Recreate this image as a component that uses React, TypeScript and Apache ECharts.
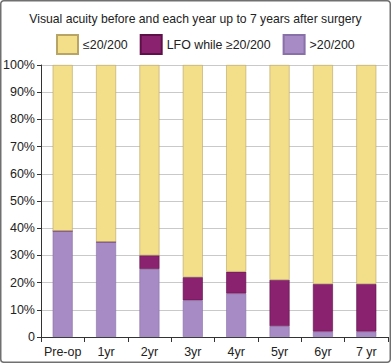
import React, { useEffect, useRef } from "react";
import * as echarts from "echarts";

const categories = ["Pre-op", "1yr", "2yr", "3yr", "4yr", "5yr", "6yr", "7 yr"];
const better = [39, 35, 25, 13.5, 16, 4, 2, 2]; // >20/200
const lfo = [0, 0, 5, 8.5, 8, 17, 17.5, 17.5]; // LFO while ≥20/200
const worse = [61, 65, 70, 78, 76, 79, 80.5, 80.5]; // ≤20/200
const yTicks = [0, 10, 20, 30, 40, 50, 60, 70, 80, 90, 100];

const FONT = "'Liberation Sans', Arial, Helvetica, sans-serif";

export default function App() {
  const ref = useRef<HTMLDivElement>(null);
  useEffect(() => {
    if (!ref.current) return;
    const chart = echarts.init(ref.current, undefined, { renderer: "svg" });
    chart.setOption({
      animation: false,
      backgroundColor: "#ffffff",
      textStyle: { fontFamily: FONT },
      title: {
        text: "Visual acuity before and each year up to 7 years after surgery",
        left: "center",
        top: 8,
        textStyle: { fontFamily: FONT, fontSize: 12.2, fontWeight: "normal", color: "#222" },
      },
      legend: {
        data: ["≤20/200", "LFO while ≥20/200", ">20/200"],
        left: 56,
        top: 34,
        padding: 0,
        itemWidth: 21,
        itemHeight: 19,
        itemGap: 12,
        icon: "rect",
        textStyle: { fontFamily: FONT, fontSize: 12.4, color: "#222" },
      },
      grid: { left: 41, right: 3, top: 65, bottom: 26, containLabel: false },
      xAxis: {
        type: "category",
        data: categories,
        axisLine: { lineStyle: { color: "#333", width: 1 } },
        axisTick: { show: true, length: 5, interval: 0, lineStyle: { color: "#333" } },
        axisLabel: { fontFamily: FONT, fontSize: 12.5, color: "#222", margin: 8, interval: 0 },
      },
      yAxis: {
        type: "value",
        min: 0,
        max: 100,
        interval: 10,
        axisLine: { show: true, lineStyle: { color: "#333", width: 1 } },
        axisTick: { show: true, length: 4, lineStyle: { color: "#333" } },
        axisLabel: {
          fontFamily: FONT,
          fontSize: 12.5,
          color: "#222",
          margin: 6,
          formatter: (v: number) => (yTicks.includes(v) && v !== 0 ? v + "%" : "0"),
        },
        splitLine: { show: true, lineStyle: { color: "#c9c9c9", width: 1 } },
      },
      series: [
        {
          name: ">20/200",
          type: "bar",
          stack: "s",
          data: better,
          barWidth: 20,
          itemStyle: { color: "#a68bc4", borderColor: "#8a70a8", borderWidth: 0.6 },
        },
        {
          name: "LFO while ≥20/200",
          type: "bar",
          stack: "s",
          data: lfo,
          barWidth: 20,
          itemStyle: { color: "#8b2270", borderColor: "#5e1049", borderWidth: 0.6 },
        },
        {
          name: "≤20/200",
          type: "bar",
          stack: "s",
          data: worse,
          barWidth: 20,
          itemStyle: { color: "#f3de8a", borderColor: "#b8a465", borderWidth: 0.6 },
        },
      ],
      graphic: [
        {
          type: "rect",
          shape: { x: 0.75, y: 0.75, width: 389.5, height: 361.5, r: 3 },
          style: { fill: "none", stroke: "#707070", lineWidth: 1.5 },
          silent: true,
          z: 100,
        },
      ],
    });
    return () => chart.dispose();
  }, []);
  return (
    <div
      ref={ref}
      style={{ position: "fixed", left: 0, top: 0, width: 391, height: 363 }}
    />
  );
}
